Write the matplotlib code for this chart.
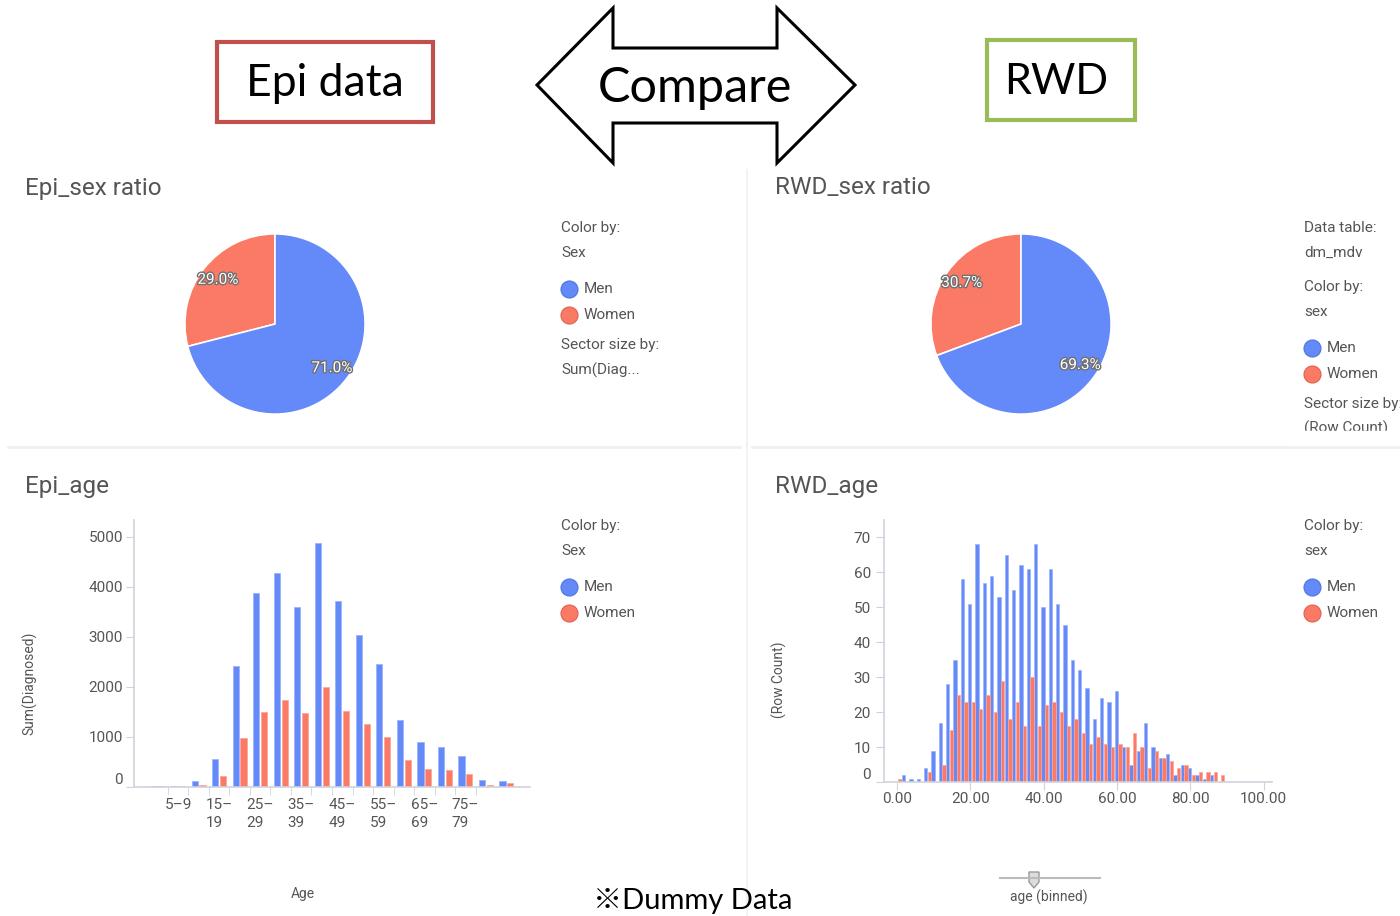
import numpy as np
import matplotlib.pyplot as plt
from matplotlib.patches import Rectangle, Polygon
import matplotlib.patheffects as pe

# Данные: пироги (доля мужчин / женщин)
sex_labels = ['Men', 'Women']
epi_sex_pct = [71.0, 29.0]
rwd_sex_pct = [69.3, 30.7]

# Epi_age: сумма диагнозов по возрастным группам
epi_age_groups = ['0–4', '5–9', '10–14', '15–19', '20–24', '25–29', '30–34', '35–39',
                  '40–44', '45–49', '50–54', '55–59', '60–64', '65–69', '70–74', '75–79',
                  '80–84', '85+']
epi_men = [30, 30, 130, 570, 2420, 3880, 4290, 3610, 4890, 3720, 3050, 2470,
           1350, 910, 810, 630, 150, 130]
epi_women = [30, 30, 50, 230, 990, 1510, 1750, 1490, 2010, 1530, 1270, 1010,
             550, 370, 340, 260, 50, 80]
epi_tick_labels = ['5–9', '15–\n19', '25–\n29', '35–\n39', '45–\n49', '55–\n59', '65–\n69', '75–\n79']

# RWD_age: количество строк по возрасту (бины по 2 года)
rwd_bins = np.arange(0, 90, 2)
rwd_men = [0, 2, 1, 1, 4, 9, 17, 28, 35, 58, 51, 68, 57, 59, 53, 65, 55, 62, 61, 68,
           50, 61, 51, 45, 35, 32, 27, 18, 24, 23, 26, 10, 5, 9, 17, 10, 7, 8, 2, 5,
           4, 2, 1, 2, 0]
rwd_women = [1, 0, 0, 0, 3, 0, 5, 15, 25, 23, 23, 21, 25, 20, 29, 18, 23, 16, 30, 16,
             22, 23, 20, 16, 18, 14, 11, 13, 11, 10, 11, 10, 14, 10, 4, 9, 7, 6, 4, 5,
             2, 3, 3, 3, 2]

W, H = 1400, 916
BLUE = '#6489F8'
RED = '#FA7A66'
BLUE_EDGE = '#9CB4FA'
RED_EDGE = '#FCA799'
GRAY_TXT = '#555555'
AXIS_C = '#D0D3DC'

plt.rcParams['font.family'] = ['Roboto', 'DejaVu Sans']


def rect(x0, y0, x1, y1):
    return [x0 / W, 1 - y1 / H, (x1 - x0) / W, (y1 - y0) / H]


fig = plt.figure(figsize=(14, 9.16), dpi=100)
fig.patch.set_facecolor('white')

# общий слой для рамок, текста и разделителей (координаты в пикселях)
ov = fig.add_axes([0, 0, 1, 1])
ov.set_xlim(0, W)
ov.set_ylim(H, 0)
ov.axis('off')

# --- шапка ---
ov.add_patch(Rectangle((217, 42), 216, 80, fill=False, edgecolor='#C0504D', lw=3))
ov.text(325, 83, 'Epi data', fontsize=32, family=['Lato', 'DejaVu Sans'], ha='center', va='center')
ov.add_patch(Rectangle((987, 40), 148, 80, fill=False, edgecolor='#9BBB59', lw=3))
ov.text(1056, 82, 'RWD', fontsize=31, family=['Lato', 'DejaVu Sans'], ha='center', va='center')
arrow = [(537, 85), (613, 8), (613, 48), (777, 48), (777, 8), (855, 85),
         (777, 163), (777, 123), (613, 123), (613, 163)]
ov.add_patch(Polygon(arrow, closed=True, fill=False, edgecolor='black', lw=2.2, joinstyle='miter'))
ov.text(695, 88, 'Compare', fontsize=35, family=['Lato', 'DejaVu Sans'], ha='center', va='center')
ov.text(693, 901, '※Dummy Data', fontsize=21, family=['Lato', 'Noto Sans CJK JP', 'DejaVu Sans'],
        ha='center', va='center')

# разделители панелей
ov.plot([8, 740], [447, 447], color='#EEF0F5', lw=2)
ov.plot([752, 1400], [447, 447], color='#EEF0F5', lw=2)
ov.plot([747, 747], [170, 916], color='#F2F3F7', lw=1.5)

# заголовки панелей
for x, y, t in [(25, 188, 'Epi_sex ratio'), (775, 188, 'RWD_sex ratio'),
                (25, 486, 'Epi_age'), (775, 486, 'RWD_age')]:
    ov.text(x, y, t, fontsize=17.5, color='#555555', ha='left', va='center')


# легенды
def legend(x, y_items):
    for y, kind, txt in y_items:
        if kind == 'text':
            ov.text(x, y, txt, fontsize=11, color=GRAY_TXT, ha='left', va='center')
        else:
            c, ec = (BLUE, '#4F74E0') if kind == 'Men' else (RED, '#E0604C')
            ov.scatter([x + 8], [y], s=150, color=c, edgecolor=ec, lw=0.8)
            ov.text(x + 23, y, txt, fontsize=11, color=GRAY_TXT, ha='left', va='center')


legend(561, [(228, 'text', 'Color by:'), (253, 'text', 'Sex'), (289, 'Men', sex_labels[0]),
             (315, 'Women', sex_labels[1]), (345, 'text', 'Sector size by:'),
             (370, 'text', 'Sum(Diag...')])
legend(1304, [(228, 'text', 'Data table:'), (253, 'text', 'dm_mdv'), (287, 'text', 'Color by:'),
              (312, 'text', 'sex'), (348, 'Men', sex_labels[0]), (374, 'Women', sex_labels[1]),
              (404, 'text', 'Sector size by:'), (428, 'text', '(Row Count)')])
legend(561, [(526, 'text', 'Color by:'), (551, 'text', 'Sex'), (587, 'Men', sex_labels[0]),
             (613, 'Women', sex_labels[1])])
legend(1304, [(526, 'text', 'Color by:'), (551, 'text', 'sex'), (587, 'Men', sex_labels[0]),
              (613, 'Women', sex_labels[1])])
# обрезка легенды RWD_sex ratio
ov.add_patch(Rectangle((1290, 431), 110, 14, color='white', zorder=5))


# --- пироги ---
def draw_pie(cx, cy, values):
    ax = fig.add_axes(rect(cx - 91, cy - 91, cx + 91, cy + 91))
    women_first = [values[1], values[0]]
    wedges, _, autotexts = ax.pie(women_first, colors=[RED, BLUE], startangle=90,
                                  counterclock=True, autopct='%.1f%%', pctdistance=0.8,
                                  wedgeprops=dict(edgecolor='white', lw=1.2),
                                  textprops=dict(fontsize=11, color='white'))
    for t in autotexts:
        t.set_path_effects([pe.withStroke(linewidth=2, foreground='#707070')])
    ax.set_xlim(-1.01, 1.01)
    ax.set_ylim(-1.01, 1.01)
    ax.set_aspect('equal')
    ax.patch.set_alpha(0)


draw_pie(275, 324, epi_sex_pct)
draw_pie(1021, 324, rwd_sex_pct)


def style_axes(ax):
    ax.patch.set_alpha(0)
    for s in ['top', 'right']:
        ax.spines[s].set_visible(False)
    for s in ['left', 'bottom']:
        ax.spines[s].set_color(AXIS_C)
        ax.spines[s].set_linewidth(1.2)
    ax.tick_params(which='both', color=AXIS_C, labelcolor=GRAY_TXT, labelsize=11, length=6)


# --- Epi_age ---
ax1 = fig.add_axes(rect(134, 520, 530, 787))
x = np.arange(len(epi_age_groups))
ax1.bar(x - 0.19, epi_men, width=0.3, color=BLUE, edgecolor=BLUE_EDGE, lw=0.6)
ax1.bar(x + 0.19, epi_women, width=0.3, color=RED, edgecolor=RED_EDGE, lw=0.6)
ax1.set_xlim(-1.15, 18.15)
ax1.set_ylim(0, 5340)
style_axes(ax1)
ax1.set_yticks(range(0, 5001, 1000))
ax1.set_xticks(x[1:16:2])
ax1.set_xticklabels(epi_tick_labels, linespacing=1.35, multialignment='left')
ax1.set_xticks(np.arange(0.5, 16, 1), minor=True)
ax1.tick_params(axis='x', which='major', length=0, pad=8)
ax1.tick_params(axis='y', pad=2)
ax1.get_yticklabels()[0].set_va('bottom')
ov.text(30, 683, 'Sum(Diagnosed)', rotation=90, fontsize=10, color=GRAY_TXT, ha='center', va='center')
ov.text(303, 894, 'Age', fontsize=10, color=GRAY_TXT, ha='center', va='center')

# --- RWD_age ---
ax2 = fig.add_axes(rect(884, 520, 1272, 782))
c = rwd_bins + 0.35
ax2.bar(c - 0.5, rwd_men, width=0.9, color=BLUE, edgecolor=BLUE_EDGE, lw=0.5)
ax2.bar(c + 0.5, rwd_women, width=0.9, color=RED, edgecolor=RED_EDGE, lw=0.5)
ax2.set_xlim(-3.5, 102.3)
ax2.set_ylim(0, 74.9)
style_axes(ax2)
ax2.set_yticks(range(0, 71, 10))
ax2.set_xticks(range(0, 101, 20))
ax2.set_xticklabels([f'{v:.2f}' for v in range(0, 101, 20)])
ax2.tick_params(axis='x', pad=1)
ax2.get_yticklabels()[0].set_va('bottom')
ov.text(779, 680, '(Row Count)', rotation=90, fontsize=10, color=GRAY_TXT, ha='center', va='center')
ov.text(1049, 897, 'age (binned)', fontsize=10, color=GRAY_TXT, ha='center', va='center')
ov.plot([1000, 1100], [878, 878], color='#BBBBBB', lw=1.5)
ov.add_patch(Polygon([(1029, 872), (1039, 872), (1039, 882), (1034, 888), (1029, 882)],
                     closed=True, facecolor='#DDDDDD', edgecolor='#999999', lw=1))

fig.savefig('out.png', dpi=100)
